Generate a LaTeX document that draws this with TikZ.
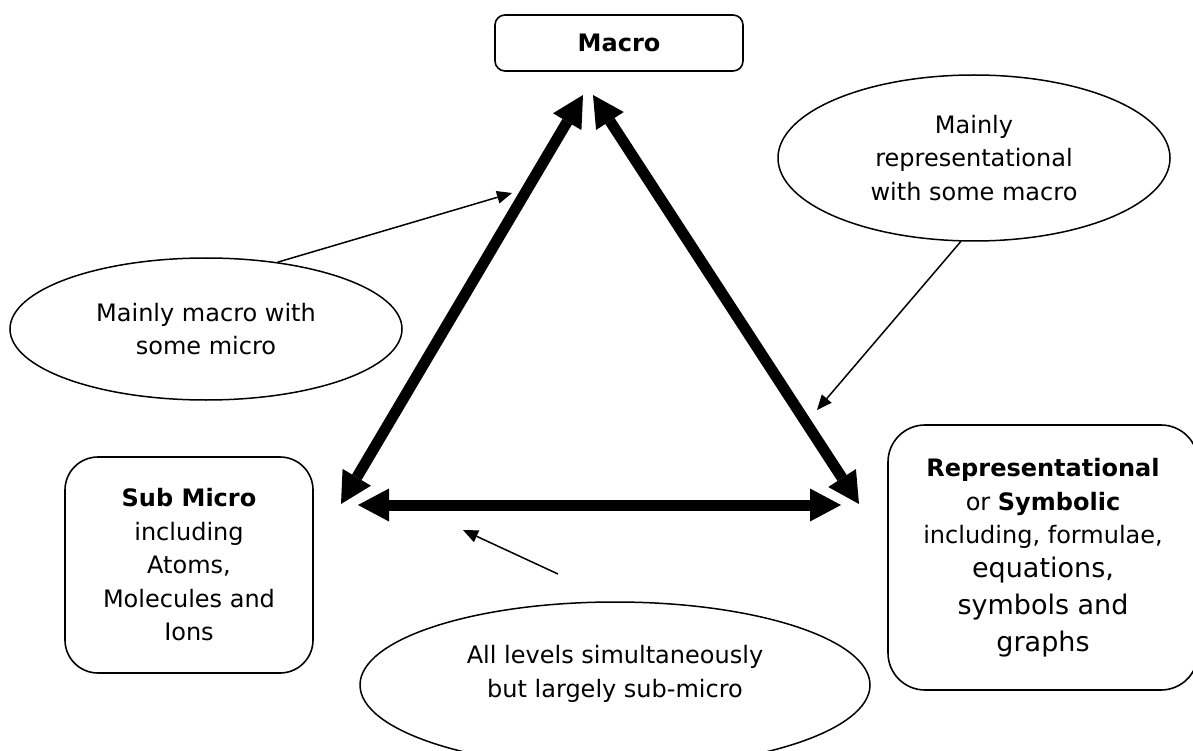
\documentclass[tikz,border=0pt]{standalone}
\usepackage{fontspec}
\setmainfont{DejaVu Sans}
\usetikzlibrary{arrows.meta,shapes.geometric}
\begin{document}
\begin{tikzpicture}[x=1pt,y=-1pt,
  txt/.style={font=\fontsize{24}{33.5}\selectfont, align=center},
  box/.style={draw, line width=1.6pt, rounded corners=#1, inner sep=0pt, txt},
  bubble/.style={draw, ellipse, line width=1.5pt, inner sep=0pt, txt},
  bigarrow/.style={line width=11pt,
    {Triangle[length=31pt,width=33pt,line width=0pt]}-{Triangle[length=31pt,width=33pt,line width=0pt]}},
  thinarrow/.style={line width=1.5pt, -{Triangle[length=15pt,width=13pt,line width=0pt]}},
]
\clip (0,0) rectangle (1193,751);
\fill[white] (0,0) rectangle (1193,751);

% boxes
\node[box=10pt, minimum width=248pt, minimum height=56pt] (macro) at (619,43) {\bfseries Macro};
\node[box=33pt, minimum width=248pt, minimum height=216pt] (sub) at (189,565)
  {{\bfseries Sub Micro}\\including\\Atoms,\\Molecules and\\Ions};
\node[box=37pt, minimum width=310pt, minimum height=265pt] (sym) at (1043,557.5)
  {{\bfseries Representational}\\or {\bfseries Symbolic}\\including, formulae,\\
   {\fontsize{27}{38}\selectfont equations,}\\[4pt]
   {\fontsize{27}{38}\selectfont symbols and}\\[3pt]
   {\fontsize{27}{38}\selectfont graphs}};

% ellipses
\node[bubble, minimum width=392pt, minimum height=142pt] (lell) at (206,329)
  {Mainly macro with\\some micro};
\node[bubble, minimum width=392pt, minimum height=166pt] (rell) at (974,158)
  {Mainly\\representational\\with some macro};
\node[bubble, minimum width=510pt, minimum height=166pt, text depth=27pt] (bell) at (615,685)
  {All levels simultaneously\\but largely sub-micro};

% big triangle of arrows
\coordinate (lt) at (583,95);
\coordinate (rt) at (593,95);
\coordinate (lb) at (341,504);
\coordinate (rb) at (859,504);
\coordinate (hl) at (358,505);
\coordinate (hr) at (841,505);
\draw[bigarrow] (lb) -- (lt);
\draw[bigarrow] (rb) -- (rt);
\draw[bigarrow] (hl) -- (hr);

% thin pointer arrows
\coordinate (ltip) at (512,193);
\coordinate (rtip) at (817,410);
\coordinate (bstart) at (558,574);
\coordinate (btip) at (463,530);
\draw[thinarrow] (lell.43) -- (ltip);
\draw[thinarrow] (rell.261) -- (rtip);
\draw[thinarrow] (bstart) -- (btip);
\end{tikzpicture}
\end{document}
